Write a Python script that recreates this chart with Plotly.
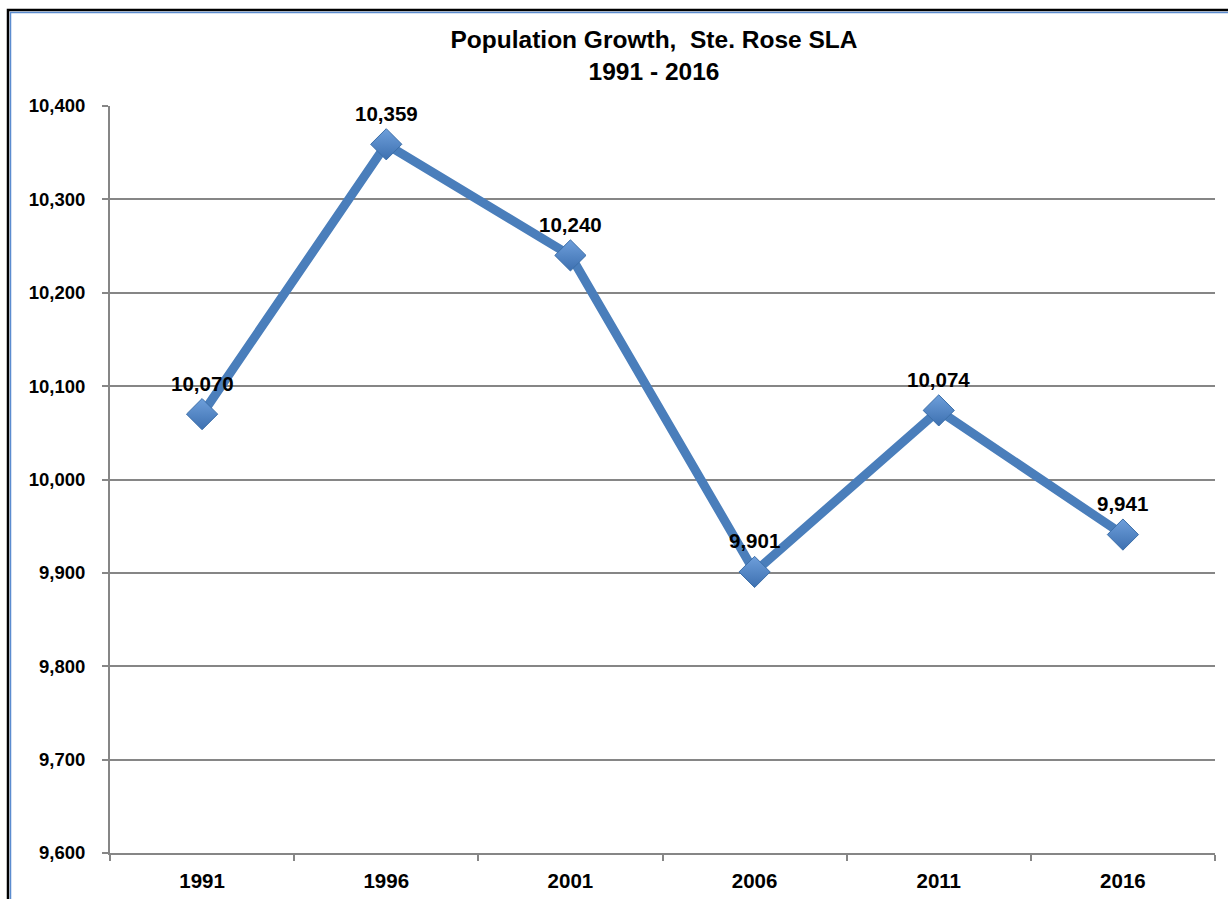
import plotly.graph_objects as go

years = ["1991", "1996", "2001", "2006", "2011", "2016"]
population = [10070, 10359, 10240, 9901, 10074, 9941]
labels = ["10,070", "10,359", "10,240", "9,901", "10,074", "9,941"]
y_ticks = [9600, 9700, 9800, 9900, 10000, 10100, 10200, 10300, 10400]
y_tick_labels = ["9,600", "9,700", "9,800", "9,900", "10,000", "10,100", "10,200", "10,300", "10,400"]

W, H = 1228, 899
ml, mr, mt, mb = 110, 13, 106, 46
pw, ph = W - ml - mr, H - mt - mb

FONT = "Liberation Sans, Arial, sans-serif"

fig = go.Figure()
fig.add_trace(go.Scatter(
    x=years, y=population,
    mode="lines+markers",
    line=dict(color="#4a7ebb", width=9),
    marker=dict(symbol="diamond", size=24, color="#6e9fdb",
                gradient=dict(type="vertical", color="#3d70b0"),
                line=dict(color="#3b6ea8", width=1)),
    hoverinfo="x+y",
))

for i, (y, t) in enumerate(zip(population, labels)):
    fig.add_annotation(x=i, y=y, xref="x", yref="y", text="<b>%s</b>" % t, showarrow=False,
                       yshift=31, font=dict(family=FONT, size=20.5, color="#000000"))

def px(x):
    return (x - ml) / pw

def py(y):
    return 1 - (y - mt) / ph

# outer frame (black then blue inner line)
fig.add_shape(type="rect", xref="paper", yref="paper",
              x0=px(8), x1=px(1240), y0=py(910), y1=py(10),
              line=dict(color="#000000", width=2.5), layer="below")
fig.add_shape(type="rect", xref="paper", yref="paper",
              x0=px(10.5), x1=px(1240), y0=py(910), y1=py(12.5),
              line=dict(color="#5b8ccf", width=1.5), layer="below")

fig.update_layout(
    width=W, height=H,
    margin=dict(l=ml, r=mr, t=mt, b=mb, autoexpand=False),
    paper_bgcolor="white", plot_bgcolor="white",
    showlegend=False,
    title=dict(text="<b>Population Growth,&nbsp; Ste. Rose SLA<br>1991 - 2016</b>",
               x=654 / W, xanchor="center",
               y=1 - 48 / H, yanchor="middle",
               font=dict(family=FONT, size=24.5, color="#000000")),
    xaxis=dict(
        type="category", range=[-0.5, len(years) - 0.5], showgrid=False,
        showline=True, linecolor="#868686", linewidth=2,
        ticks="outside", tickson="boundaries", ticklen=6, tickcolor="#868686", tickwidth=2,
        tickfont=dict(family=FONT, size=20.5, color="#000000"),
        tickvals=years, ticktext=["<b>%s</b>" % y for y in years],
        ticklabelstandoff=8, automargin=False,
    ),
    yaxis=dict(
        range=[9600, 10400], tickvals=y_ticks, ticktext=["<b>%s</b>" % t for t in y_tick_labels],
        showgrid=True, gridcolor="#868686", gridwidth=1.5,
        showline=True, linecolor="#868686", linewidth=2,
        ticks="outside", ticklen=6, tickcolor="#868686", tickwidth=2,
        tickfont=dict(family=FONT, size=18.5, color="#000000"),
        ticklabelstandoff=13, zeroline=False, automargin=False,
    ),
)

fig.write_html("out.html", config={"displayModeBar": False},
               post_script="document.body.style.margin='0';document.body.style.overflow='hidden';")
